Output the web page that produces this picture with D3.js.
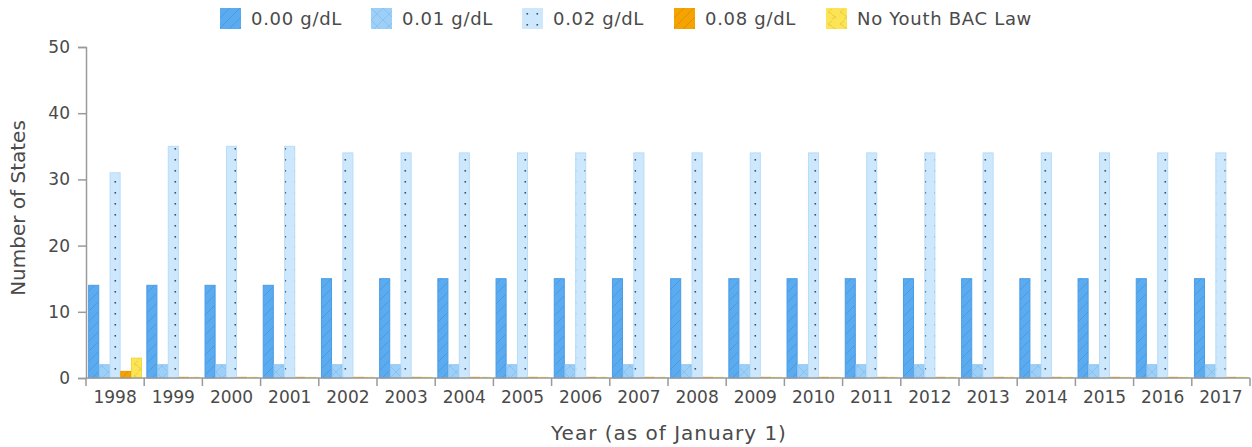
<!DOCTYPE html>
<html>
<head>
<meta charset="utf-8">
<script src="https://cdn.jsdelivr.net/npm/d3@7"></script>
<style>
  body { margin: 0; background: #fff; }
  svg { display: block; font-family: "DejaVu Sans", Verdana, sans-serif; }
</style>
</head>
<body>
<svg id="chart" width="1252" height="447"></svg>
<script>
const years = ["1998","1999","2000","2001","2002","2003","2004","2005","2006","2007","2008","2009","2010","2011","2012","2013","2014","2015","2016","2017"];
const seriesNames = ["0.00 g/dL", "0.01 g/dL", "0.02 g/dL", "0.08 g/dL", "No Youth BAC Law"];
const bac000 = [14,14,14,14,15,15,15,15,15,15,15,15,15,15,15,15,15,15,15,15];
const bac001 = [2,2,2,2,2,2,2,2,2,2,2,2,2,2,2,2,2,2,2,2];
const bac002 = [31,35,35,35,34,34,34,34,34,34,34,34,34,34,34,34,34,34,34,34];
const bac008 = [1,0,0,0,0,0,0,0,0,0,0,0,0,0,0,0,0,0,0,0];
const noLaw  = [3,0,0,0,0,0,0,0,0,0,0,0,0,0,0,0,0,0,0,0];
const yTicks = [0,10,20,30,40,50];

const seriesValues = [bac000, bac001, bac002, bac008, noLaw];
const fills = ["#5aabf0", "#9dd0f8", "#cde8fd", "#f5a300", "#fde455"];
const strokes = ["#4a9ce6", "#8cc4f2", "#b8dcf8", "#e89500", "#f2d640"];
const patterns = ["diag", "cross", "dots", "diag", "chev"];

const svg = d3.select("#chart");
const defs = svg.append("defs");

function makePattern(id, kind, bg, fg) {
  const p = defs.append("pattern").attr("id", id).attr("patternUnits", "userSpaceOnUse");
  if (kind === "diag") {
    p.attr("width", 10).attr("height", 10);
    p.append("rect").attr("width", 10).attr("height", 10).attr("fill", bg);
    p.append("path").attr("d", "M0,10 L10,0 M-2,2 L2,-2 M8,12 L12,8").attr("stroke", fg).attr("stroke-width", 1).attr("opacity", 0.5);
  } else if (kind === "cross") {
    p.attr("width", 12).attr("height", 12);
    p.append("rect").attr("width", 12).attr("height", 12).attr("fill", bg);
    p.append("path").attr("d", "M0,0 L12,12 M12,0 L0,12").attr("stroke", fg).attr("stroke-width", 1).attr("opacity", 0.4);
  } else if (kind === "dots") {
    p.attr("width", 10).attr("height", 11);
    p.append("rect").attr("width", 10).attr("height", 11).attr("fill", bg);
    p.append("rect").attr("x", 4.5).attr("y", 5).attr("width", 1.6).attr("height", 1.6).attr("fill", fg);
  } else if (kind === "chev") {
    p.attr("width", 12).attr("height", 12);
    p.append("rect").attr("width", 12).attr("height", 12).attr("fill", bg);
    p.append("path").attr("d", "M6,1 L2,4 L6,6 M6,7 L10,9 L6,11").attr("fill", "none").attr("stroke", fg).attr("stroke-width", 0.8).attr("opacity", 0.5);
  }
}
const patFg = ["#3f88cc", "#6fa9d8", "#3c4f66", "#c77f00", "#c7a92a"];
seriesValues.forEach((_, i) => makePattern("pat" + i, patterns[i], fills[i], patFg[i]));

const margin = { left: 86, right: 2, top: 47, bottom: 69 };
const W = 1252, H = 447;
const x0 = d3.scaleBand().domain(years).range([margin.left, W - margin.right]).paddingInner(0).paddingOuter(0);
const x1 = d3.scaleBand().domain(d3.range(seriesNames.length)).range([2, x0.bandwidth() - 2]).padding(0.06);
const y = d3.scaleLinear().domain([0, 50]).range([H - margin.bottom, margin.top]);

// bars
const g = svg.append("g");
years.forEach((yr, yi) => {
  seriesValues.forEach((vals, si) => {
    const v = vals[yi];
    const top = y(v);
    const h = Math.max(y(0) - top, 1.2);
    g.append("rect")
      .attr("x", x0(yr) + x1(si))
      .attr("y", y(0) - h)
      .attr("width", x1.bandwidth())
      .attr("height", h)
      .attr("fill", "url(#pat" + si + ")")
      .attr("stroke", v > 0 ? strokes[si] : "none")
      .attr("stroke-width", 1);
  });
});

// axes
const axisColor = "#9a9a9a";
const textColor = "#4a4a4a";
const yAxis = svg.append("g").attr("transform", `translate(${margin.left},0)`)
  .call(d3.axisLeft(y).tickValues(yTicks).tickSize(8).tickPadding(8));
const xAxis = svg.append("g").attr("transform", `translate(0,${y(0)})`)
  .call(d3.axisBottom(x0).tickSize(0).tickPadding(13));
[yAxis, xAxis].forEach(a => {
  a.select(".domain").attr("stroke", axisColor).attr("stroke-width", 1.5);
  a.selectAll(".tick line").attr("stroke", axisColor).attr("stroke-width", 1.5);
  a.selectAll(".tick text").attr("fill", textColor).style("font-size", "17px").style("font-family", "'DejaVu Sans', Verdana, sans-serif");
});
xAxis.select(".domain").attr("d", `M${margin.left},0H${W - margin.right}`);
// category boundary ticks
const bounds = years.map(yr => x0(yr)).concat([x0(years[years.length - 1]) + x0.bandwidth()]);
xAxis.selectAll(".bound").data(bounds).enter().append("line")
  .attr("class", "bound").attr("x1", d => d).attr("x2", d => d).attr("y1", 0).attr("y2", 8)
  .attr("stroke", axisColor).attr("stroke-width", 1.5);
xAxis.selectAll(".tick text").attr("dy", "0.71em");

// axis titles
svg.append("text").attr("x", 669).attr("y", 440)
  .attr("text-anchor", "middle").attr("fill", textColor).style("font-size", "20px")
  .style("letter-spacing", "1px")
  .text("Year (as of January 1)");
svg.append("text").attr("transform", `translate(25,${208}) rotate(-90)`)
  .attr("text-anchor", "middle").attr("fill", textColor).style("font-size", "20px")
  .text("Number of States");

// legend
const legendX = [220, 371, 522, 674, 826];
const leg = svg.append("g");
seriesNames.forEach((name, i) => {
  const lg = leg.append("g").attr("transform", `translate(${legendX[i]},8)`);
  lg.append("rect").attr("width", 21).attr("height", 21).attr("fill", "url(#pat" + i + ")");
  lg.append("text").attr("x", 31).attr("y", 17).attr("fill", textColor).style("font-size", "18px")
    .style("letter-spacing", "0.7px").text(name);
});
</script>
</body>
</html>
